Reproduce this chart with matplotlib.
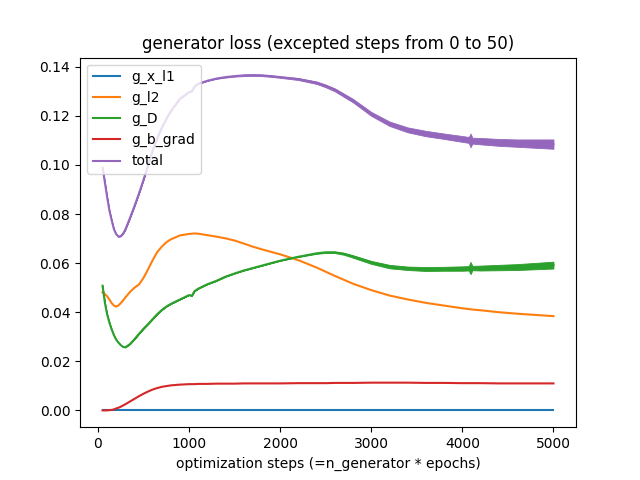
import matplotlib
matplotlib.use("Agg")
import matplotlib.pyplot as plt
import numpy as np

steps = [50, 75, 100, 125, 150, 175, 200, 225, 250, 275, 300, 350, 400, 450,
         500, 550, 600, 650, 700, 750, 800, 900, 1000, 1030, 1060, 1100, 1200,
         1300, 1400, 1500, 1600, 1700, 1800, 1900, 2000, 2200, 2400, 2500, 2600,
         2700, 2800, 3000, 3200, 3400, 3600, 3800, 4000, 4070, 4090, 4110, 4200,
         4400, 4600, 4800, 5000]

g_x_l1 = [0.0] * len(steps)

g_l2 = [0.0481, 0.0474, 0.0465, 0.0452, 0.0437, 0.0427, 0.0423, 0.0428, 0.0437,
        0.0448, 0.0460, 0.0482, 0.0500, 0.0513, 0.0540, 0.0575, 0.0612, 0.0645,
        0.0667, 0.0685, 0.0697, 0.0713, 0.0719, 0.0720, 0.0721, 0.0720, 0.0714,
        0.0708, 0.0701, 0.0692, 0.0680, 0.0667, 0.0656, 0.0646, 0.0636, 0.0612,
        0.0582, 0.0565, 0.0548, 0.0532, 0.0516, 0.0490, 0.0468, 0.0452, 0.0438,
        0.0427, 0.0416, 0.0413, 0.0412, 0.0411, 0.0408, 0.0400, 0.0394, 0.0389,
        0.0384]

g_D = [0.0508, 0.0440, 0.0392, 0.0358, 0.0330, 0.0306, 0.0288, 0.0276, 0.0266,
       0.0259, 0.0257, 0.0270, 0.0290, 0.0312, 0.0333, 0.0352, 0.0372, 0.0392,
       0.0409, 0.0423, 0.0434, 0.0452, 0.0470, 0.0467, 0.0486, 0.0496, 0.0514,
       0.0528, 0.0545, 0.0558, 0.0570, 0.0580, 0.0590, 0.0600, 0.0610, 0.0626,
       0.0640, 0.0644, 0.0644, 0.0638, 0.0627, 0.0603, 0.0586, 0.0579, 0.0576,
       0.0577, 0.0578, 0.0579, 0.0580, 0.0580, 0.0580, 0.0582, 0.0584, 0.0588,
       0.0592]

g_b_grad = [0.0, 0.0, 0.0, 0.0001, 0.0002, 0.0004, 0.0008, 0.0011, 0.0015,
            0.0020, 0.0025, 0.0036, 0.0047, 0.0058, 0.0068, 0.0077, 0.0085,
            0.0091, 0.0096, 0.0099, 0.0102, 0.0105, 0.0107, 0.0107, 0.0107,
            0.0108, 0.0108, 0.0109, 0.0109, 0.0109, 0.0110, 0.0110, 0.0110,
            0.0110, 0.0110, 0.0111, 0.0111, 0.0111, 0.0112, 0.0112, 0.0112,
            0.0113, 0.0113, 0.0113, 0.0112, 0.0112, 0.0111, 0.0111, 0.0111,
            0.0111, 0.0111, 0.0110, 0.0110, 0.0110, 0.0110]

total = [0.0989, 0.0930, 0.0870, 0.0815, 0.0775, 0.0738, 0.0718, 0.0708, 0.0710,
         0.0720, 0.0737, 0.0783, 0.0832, 0.0884, 0.0940, 0.1000, 0.1060, 0.1110,
         0.1152, 0.1188, 0.1220, 0.1270, 0.1297, 0.1300, 0.1320, 0.1331, 0.1343,
         0.1352, 0.1358, 0.1362, 0.1365, 0.1366, 0.1365, 0.1362, 0.1358, 0.1350,
         0.1335, 0.1322, 0.1306, 0.1284, 0.1262, 0.1208, 0.1168, 0.1143, 0.1128,
         0.1117, 0.1106, 0.1102, 0.1100, 0.1099, 0.1097, 0.1092, 0.1089, 0.1087,
         0.1085]

# half-width of the noisy band
total_noise = [0, 0, 0, 0, 0, 0, 0, 0, 0, 0, 0, 0, 0, 0, 0, 0, 0, 0, 0, 0, 0, 0,
               0, 0, 0, 0.0001, 0.0001, 0.0001, 0.0002, 0.0002, 0.0003, 0.0003,
               0.0003, 0.0003, 0.0003, 0.0004, 0.0005, 0.00055, 0.0006, 0.00065,
               0.0007, 0.0008, 0.0009, 0.0010, 0.0011, 0.0011, 0.0012, 0.0012,
               0.0028, 0.0012, 0.0013, 0.0014, 0.0015, 0.0017, 0.0019]

g_D_noise = [0, 0, 0, 0, 0, 0, 0, 0, 0, 0, 0, 0, 0, 0, 0, 0, 0, 0, 0, 0, 0, 0,
             0, 0, 0, 0, 0, 0, 0, 0, 0, 0, 0, 0, 0, 0.0001, 0.0002, 0.00025,
             0.0003, 0.0004, 0.0005, 0.0006, 0.0007, 0.0007, 0.0008, 0.0008,
             0.0009, 0.0009, 0.0025, 0.0009, 0.0010, 0.0011, 0.0012, 0.0013,
             0.0014]

fig, ax = plt.subplots(figsize=(6.4, 4.8), dpi=100)
colors = plt.rcParams['axes.prop_cycle'].by_key()['color']

x = np.array(steps)
ax.plot(x, g_x_l1, label='g_x_l1', color=colors[0])
ax.plot(x, g_l2, label='g_l2', color=colors[1])
gd = np.array(g_D); gdn = np.array(g_D_noise)
ax.plot(x, gd, label='g_D', color=colors[2])
ax.fill_between(x, gd - gdn, gd + gdn, color=colors[2], lw=0.6, edgecolor=colors[2])
ax.plot(x, g_b_grad, label='g_b_grad', color=colors[3])
tt = np.array(total); ttn = np.array(total_noise)
ax.plot(x, tt, label='total', color=colors[4])
ax.fill_between(x, tt - ttn, tt + ttn, color=colors[4], lw=0.6, edgecolor=colors[4])

ax.set_title('generator loss (excepted steps from 0 to 50)')
ax.set_xlabel('optimization steps (=n_generator * epochs)')
ax.legend(loc='upper left')
fig.savefig('out.png', dpi=100)
